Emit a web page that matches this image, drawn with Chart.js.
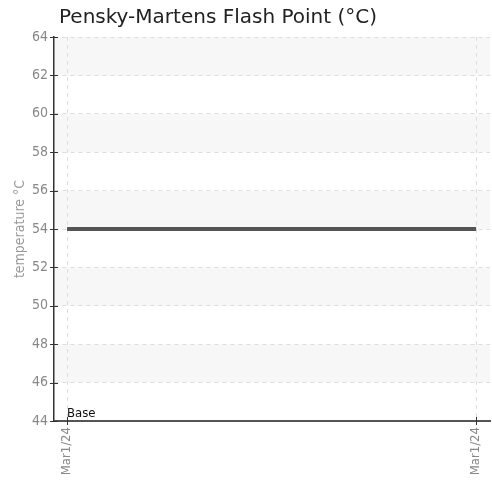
<!DOCTYPE html>
<html>
<head>
<meta charset="utf-8">
<script src="https://cdn.jsdelivr.net/npm/chart.js@4.4.1/dist/chart.umd.min.js"></script>
<style>
    html, body { margin: 0; padding: 0; background: #fff; }
    #wrap { width: 492px; height: 480px; }
</style>
</head>
<body>
<div id="wrap"><canvas id="flash_chart"></canvas></div>
<script>
// chart data
var arrLabels = ['Mar1/24', 'Mar1/24'];
var arrFlashPoint = [54, 54];
var arrYTicks = [44, 46, 48, 50, 52, 54, 56, 58, 60, 62, 64];
var arrBands = [[46, 48], [50, 52], [54, 56], [58, 60], [62, 64]];
var numBase = 44;
var strBaseLabel = 'Base';
var strTitle = 'Pensky-Martens Flash Point (°C)';
var strYTitle = 'temperature °C';

var strTickFont = "'DejaVu Sans Condensed', 'Liberation Sans Narrow', 'Roboto', sans-serif";

// shaded bands behind the grid + small crossing ticks + base label
var pluginExtras = {
    id: 'extras',
    afterLayout: function (chart) {
        // nudge the title a bit right of the y axis
        if (chart.titleBlock) {
            chart.titleBlock.left += 5;
        }
    },
    beforeDraw: function (chart) {
        const ctx = chart.ctx;
        const area = chart.chartArea;
        const y = chart.scales.y;
        ctx.save();
        ctx.fillStyle = '#f7f7f7';
        arrBands.forEach(function (arrBand) {
            const y1 = y.getPixelForValue(arrBand[1]);
            const y0 = y.getPixelForValue(arrBand[0]);
            ctx.fillRect(area.left, y1, area.right - area.left, y0 - y1);
        });
        ctx.restore();
    },
    afterDraw: function (chart) {
        const ctx = chart.ctx;
        const x = chart.scales.x;
        const y = chart.scales.y;
        const area = chart.chartArea;
        ctx.save();
        ctx.strokeStyle = '#333';
        ctx.lineWidth = 1;
        y.ticks.forEach(function (objTick) {
            const py = Math.round(y.getPixelForValue(objTick.value)) + 0.5;
            ctx.beginPath();
            ctx.moveTo(area.left - 4, py);
            ctx.lineTo(area.left + 4, py);
            ctx.stroke();
        });
        x.ticks.forEach(function (objTick) {
            const px = Math.round(x.getPixelForValue(objTick.value)) + 0.5;
            ctx.beginPath();
            ctx.moveTo(px, area.bottom - 4);
            ctx.lineTo(px, area.bottom + 4);
            ctx.stroke();
        });
        ctx.fillStyle = '#111';
        ctx.font = "13px " + strTickFont;
        ctx.textBaseline = 'bottom';
        ctx.fillText(strBaseLabel, x.getPixelForValue(0), y.getPixelForValue(numBase) - 1);
        ctx.restore();
    }
};

var ctx = document.getElementById('flash_chart').getContext('2d');
var objChart = new Chart(ctx, {
    type: 'line',
    data: {
        datasets: [{
            data: arrFlashPoint.map((v, i) => ({ x: i, y: v })),
            borderColor: '#555',
            borderWidth: 4,
            pointRadius: 0,
            fill: false
        }]
    },
    options: {
        animation: false,
        responsive: true,
        maintainAspectRatio: false,
        layout: {
            padding: { left: 0, right: 2, top: 0, bottom: 0 }
        },
        plugins: {
            legend: { display: false },
            tooltip: { enabled: false },
            title: {
                display: true,
                text: strTitle,
                align: 'start',
                fullSize: false,
                color: '#222',
                font: { family: "'DejaVu Sans', sans-serif", size: 20, weight: 'normal' },
                padding: { top: 6, bottom: 7 }
            }
        },
        scales: {
            x: {
                type: 'linear',
                min: -0.032,
                max: 1.034,
                afterBuildTicks: function (scale) {
                    scale.ticks = arrLabels.map((s, i) => ({ value: i }));
                },
                afterFit: function (scale) {
                    scale.height = 59;
                    scale.paddingLeft = 0;
                    scale.paddingRight = 0;
                },
                grid: {
                    color: '#ddd',
                    drawTicks: false
                },
                border: { color: '#555', width: 2, dash: [4, 4] },
                ticks: {
                    padding: 6,
                    minRotation: 90,
                    maxRotation: 90,
                    color: '#888',
                    font: { family: strTickFont, size: 13 },
                    callback: function (value, index) {
                        return arrLabels[index];
                    }
                }
            },
            y: {
                min: 44,
                max: 64,
                afterBuildTicks: function (scale) {
                    scale.ticks = arrYTicks.map(v => ({ value: v }));
                },
                afterFit: function (scale) {
                    scale.width = 54;
                },
                title: {
                    display: true,
                    text: strYTitle,
                    color: '#999',
                    font: { family: strTickFont, size: 14 },
                    padding: { top: 12, bottom: 4 }
                },
                border: { color: '#333', width: 1.5, dash: [4, 4] },
                grid: {
                    color: '#ddd',
                    drawTicks: false
                },
                ticks: {
                    padding: 6,
                    color: '#888',
                    font: { family: strTickFont, size: 14 }
                }
            }
        }
    },
    plugins: [pluginExtras]
});
</script>
</body>
</html>
